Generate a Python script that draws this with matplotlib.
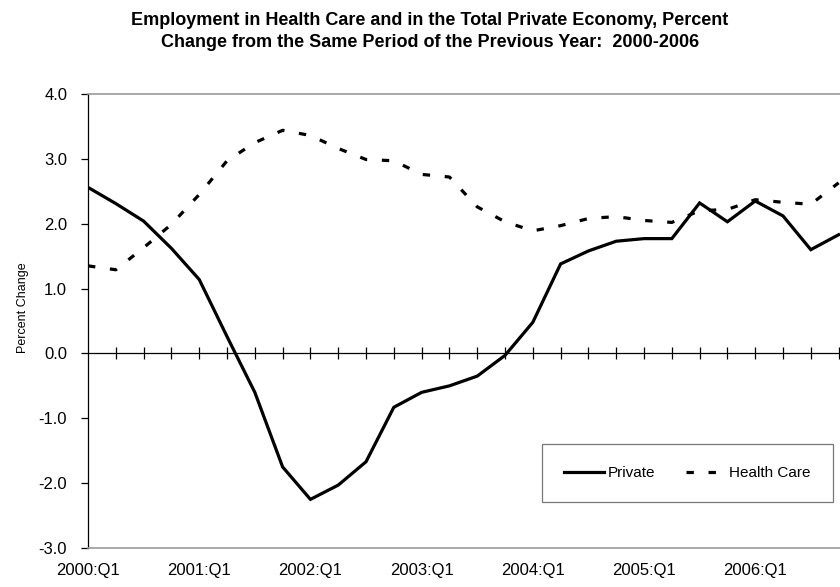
import numpy as np
import matplotlib
matplotlib.use("Agg")
import matplotlib.pyplot as plt

plt.rcParams['font.family'] = ['Liberation Sans', 'DejaVu Sans']

# quarters 2000:Q1 .. 2006:Q4
quarters = [f"{y}:Q{q}" for y in range(2000, 2007) for q in range(1, 5)]

private = [2.56, 2.31, 2.04, 1.62, 1.14, 0.26, -0.60, -1.75, -2.25, -2.03,
           -1.67, -0.83, -0.60, -0.50, -0.35, -0.03, 0.48, 1.38, 1.58, 1.73,
           1.77, 1.77, 2.32, 2.03, 2.35, 2.12, 1.60, 1.83]
health_care = [1.35, 1.29, 1.63, 1.99, 2.45, 2.97, 3.25, 3.44, 3.36, 3.16,
               2.99, 2.97, 2.76, 2.72, 2.26, 2.03, 1.89, 1.97, 2.08, 2.11,
               2.05, 2.02, 2.20, 2.22, 2.37, 2.33, 2.30, 2.63]

yticks = [-3.0, -2.0, -1.0, 0.0, 1.0, 2.0, 3.0, 4.0]

x = np.arange(len(quarters))

fig = plt.figure(figsize=(8.4, 5.87), dpi=100)
ax = fig.add_axes([0.1048, 0.0664, 0.8952, 0.7735])

ax.plot(x, private, color='black', lw=2.3, label='Private', solid_joinstyle='miter')
ax.plot(x, health_care, color='black', lw=2.3, dashes=(2.3, 4.6), label='Health Care')

# zero line with category tick marks
ax.axhline(0, color='black', lw=0.9)
ax.plot(x[1:], np.zeros(len(x) - 1), ls='none', marker='|', ms=8.5, mew=0.9, color='black')

ax.set_xlim(0, 27.05)
ax.set_ylim(-3, 4)
ax.set_yticks(yticks)
ax.set_yticklabels([f"{v:.1f}" for v in yticks], fontsize=12)
ax.set_xticks(x[::4])
ax.set_xticklabels(quarters[::4], fontsize=12)
ax.tick_params(axis='x', length=0, pad=11)
ax.tick_params(axis='y', direction='out', length=5, width=0.9, pad=10)

for s in ['top', 'bottom']:
    ax.spines[s].set_color('#999999')
    ax.spines[s].set_linewidth(1.2)
ax.spines['right'].set_visible(False)
ax.spines['left'].set_color('black')
ax.spines['left'].set_linewidth(0.9)

ax.set_ylabel('Percent Change', fontsize=9)
ax.yaxis.set_label_coords(-0.079, 0.53)

leg = ax.legend(loc='lower right', bbox_to_anchor=(0.9907, 0.101), ncol=2, fontsize=11,
                frameon=True, fancybox=False, edgecolor='#555555',
                handlelength=2.6, handletextpad=0.25, columnspacing=2.0,
                borderpad=1.45, borderaxespad=0)
leg.get_frame().set_linewidth(0.9)

fig.text(0.512, 0.979, 'Employment in Health Care and in the Total Private Economy, Percent\n'
         'Change from the Same Period of the Previous Year:  2000-2006',
         ha='center', va='top', fontsize=13, fontweight='bold', linespacing=1.38)

fig.savefig('out.png', dpi=100)
